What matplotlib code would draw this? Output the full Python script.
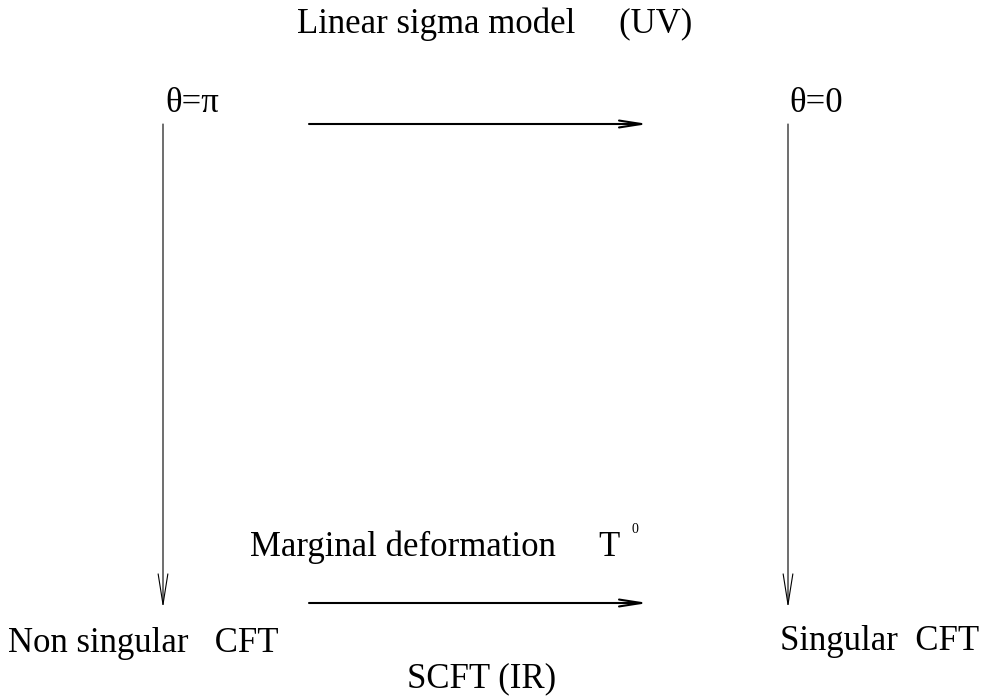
import matplotlib.pyplot as plt

# labels of the diagram (left x and baseline y on a 990x698 pixel canvas)
labels = ["Linear sigma model     (UV)", "θ=π", "θ=0",
          "Marginal deformation     T", "Non singular   CFT", "Singular  CFT", "SCFT (IR)"]
label_x = [297, 165, 789, 250, 8, 780, 407]
label_y = [33, 112, 112, 556, 652, 650, 687]

# arrows: (x0, y0, x1, y1)
h_arrows = [(309, 124, 648, 124), (309, 603, 648, 603)]
v_arrows = [(163, 124, 163, 608), (788, 124, 788, 608)]

plt.rcParams['font.family'] = ['Liberation Serif', 'DejaVu Serif']
fig = plt.figure(figsize=(9.9, 6.98), dpi=100)
ax = fig.add_axes([0, 0, 1, 1])
ax.set_xlim(0, 990)
ax.set_ylim(698, 0)
ax.axis('off')

for txt, x, y in zip(labels, label_x, label_y):
    ax.text(x, y, txt, fontsize=25, ha='left', va='baseline')
ax.text(632, 533, "0", fontsize=10, ha='left', va='baseline')

for x0, y0, x1, y1 in h_arrows:
    ax.annotate('', xy=(x1, y1), xytext=(x0, y0),
                arrowprops=dict(arrowstyle='->,head_length=1.6,head_width=0.25',
                                lw=1.5, color='black', shrinkA=0, shrinkB=0))
for x0, y0, x1, y1 in v_arrows:
    ax.annotate('', xy=(x1, y1), xytext=(x0, y0),
                arrowprops=dict(arrowstyle='->,head_length=2.2,head_width=0.35',
                                lw=0.8, color='black', shrinkA=0, shrinkB=0))

fig.savefig('out.png', dpi=100)
